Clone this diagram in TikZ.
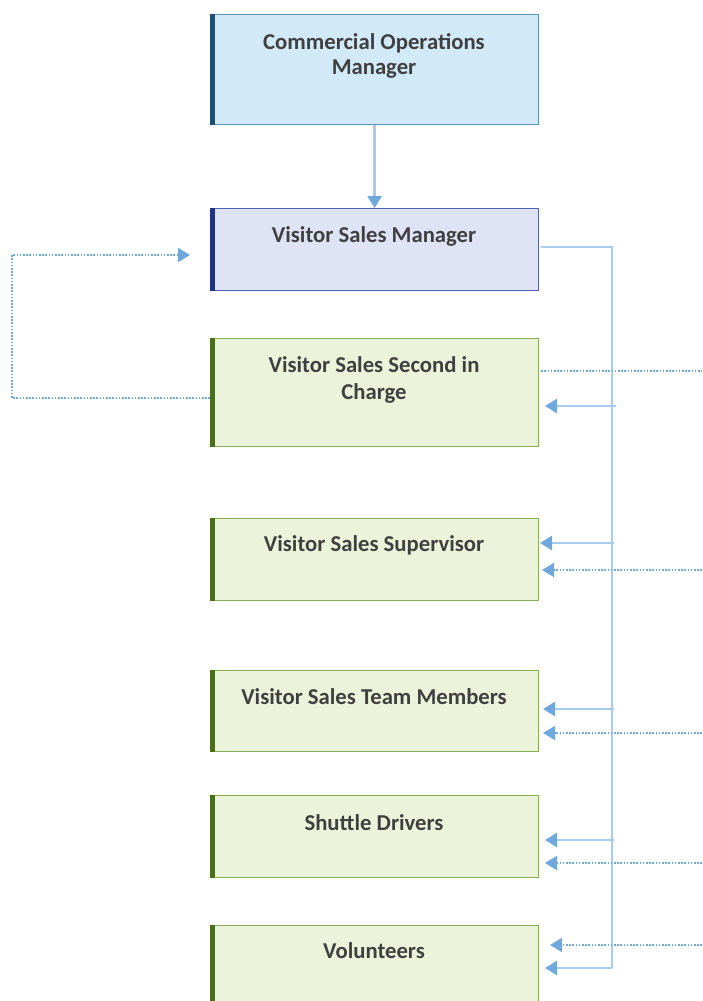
\documentclass[tikz,border=0pt]{standalone}
\usepackage{fontspec}
\setmainfont{Carlito}
\usetikzlibrary{arrows.meta}
\definecolor{txt}{HTML}{404040}
\definecolor{bluefill}{HTML}{D2E9F7}
\definecolor{blueline}{HTML}{5B93B5}
\definecolor{bluebar}{HTML}{1F4E6E}
\definecolor{purfill}{HTML}{DEE3F5}
\definecolor{purline}{HTML}{4D62B5}
\definecolor{purbar}{HTML}{1F3380}
\definecolor{grnfill}{HTML}{EBF4DA}
\definecolor{grnline}{HTML}{86AE52}
\definecolor{grnbar}{HTML}{4A6E1E}
\definecolor{conn}{HTML}{A8CCEC}
\definecolor{tip}{HTML}{6FA8DC}
\tikzset{
  box/.style={draw, line width=1.2pt, minimum width=328pt, inner sep=0pt, anchor=north west},
  lab/.style={anchor=base, font=\bfseries\fontsize{22.7}{25}\selectfont, text=txt, align=center, inner sep=0pt},
  solidc/.style={draw=conn, line width=2.8pt},
  dotc/.style={draw=tip, line width=1.6pt, dash pattern=on 1.6pt off 1.6pt},
  tipa/.style={-{Triangle[length=12pt,width=14pt,color=tip]}},
}
\begin{document}
\begin{tikzpicture}[x=1pt,y=-1pt]
\useasboundingbox (0,0) rectangle (702,1001);
\begin{scope}
\clip (0,0) rectangle (702,1001);
% boxes
\node[box, draw=blueline, fill=bluefill, minimum height=110pt] (com) at (210,14) {};
\node[box, draw=purline, fill=purfill, minimum height=82pt] (vsm) at (210,208) {};
\node[box, draw=grnline, fill=grnfill, minimum height=108pt] (vs2) at (210,338) {};
\node[box, draw=grnline, fill=grnfill, minimum height=82pt] (sup) at (210,518) {};
\node[box, draw=grnline, fill=grnfill, minimum height=81pt] (team) at (210,670) {};
\node[box, draw=grnline, fill=grnfill, minimum height=82pt] (shut) at (210,795) {};
\node[box, draw=grnline, fill=grnfill, minimum height=90pt] (vol) at (210,925) {};
% bars
\fill[bluebar] (com.north west) rectangle ([xshift=5pt]com.south west);
\fill[purbar] (vsm.north west) rectangle ([xshift=5pt]vsm.south west);
\foreach \n in {vs2,sup,team,shut,vol}
  \fill[grnbar] (\n.north west) rectangle ([xshift=5pt]\n.south west);
% labels
\node[lab] (lcom) at (374,74) {Commercial Operations\\Manager};
\node[lab] (lvsm) at (374,242) {Visitor Sales Manager};
\node[lab] (lvs2) at (374,399) {Visitor Sales Second in\\[2pt]Charge};
\node[lab] (lsup) at (374,551) {Visitor Sales Supervisor};
\node[lab] (lteam) at (374,704) {Visitor Sales Team Members};
\node[lab] (lshut) at (374,830) {Shuttle Drivers};
\node[lab] (lvol) at (374,958) {Volunteers};
% coordinates
\coordinate (trunkTop) at (612,247);
\coordinate (trunkBot) at (612,968);
\coordinate (d2) at (702,371);
\coordinate (dsup) at (702,570);
\coordinate (dteam) at (702,733);
\coordinate (dshut) at (702,863);
\coordinate (dvol) at (702,945);
\coordinate (lt) at (12,255);
\coordinate (lb) at (12,398);
% solid connectors
\draw[solidc, tipa] (com.south) -- (vsm.north);
\draw[solidc] ([xshift=2pt,yshift=-39pt]vsm.north east) -- (trunkTop) -- (trunkBot);
\draw[solidc, tipa] (616,406) -- (545,406);
\draw[solidc, tipa] (614,543) -- (540,543);
\draw[solidc, tipa] (614,709) -- (543,709);
\draw[solidc, tipa] (614,840) -- (545,840);
\draw[solidc, tipa] (trunkBot) -- (545,968);
% dotted connectors
\draw[dotc] ([xshift=2pt,yshift=-33pt]vs2.north east) -- (d2);
\draw[dotc, tipa] (dsup) -- (542,570);
\draw[dotc, tipa] (dteam) -- (543,733);
\draw[dotc, tipa] (dshut) -- (545,863);
\draw[dotc, tipa] (dvol) -- (550,945);
\draw[dotc, tipa] ([yshift=-60pt]vs2.north west) -- (lb) -- (lt) -- (190,255);
\end{scope}
\end{tikzpicture}
\end{document}
